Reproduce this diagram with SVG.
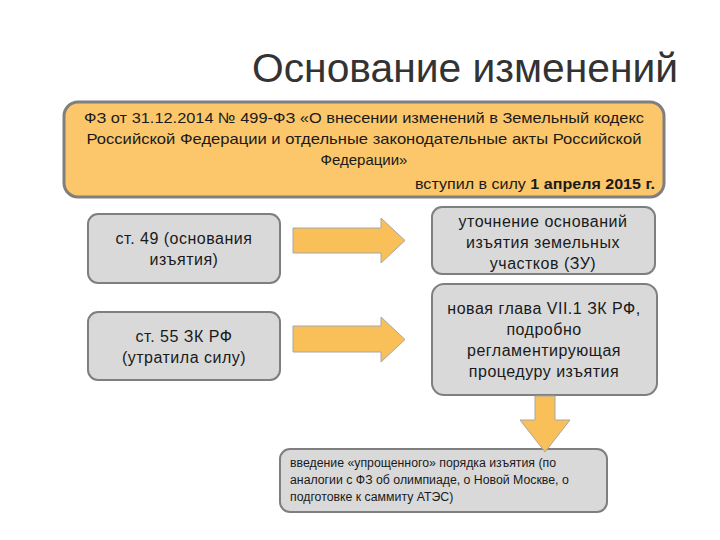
<svg xmlns="http://www.w3.org/2000/svg" width="720" height="540" viewBox="0 0 720 540">
<style>
text{font-family:"Liberation Sans",Arial,sans-serif;fill:#1a1a1a}
.t{font-size:15px}
.b{font-size:16px;letter-spacing:0.5px}
.c{text-anchor:middle}
.gray{fill:#d9d9d9;stroke:#7f7f7f;stroke-width:2}
.arr{fill:#f9c05a;stroke:#a6a6a6;stroke-width:1}
.s{font-size:12.3px}
</style>
<rect width="720" height="540" fill="#ffffff"/>
<text x="465" y="82" class="c" style="font-size:40px;fill:#333" textLength="426" lengthAdjust="spacingAndGlyphs">Основание изменений</text>
<g id="law">
<rect x="64" y="102" width="600" height="95" rx="14" fill="#fbc76a" stroke="#7f7f7f" stroke-width="3"/>
<text class="t c" x="364" y="123" textLength="560" lengthAdjust="spacingAndGlyphs">ФЗ от 31.12.2014 № 499-ФЗ «О внесении изменений в Земельный кодекс</text>
<text class="t c" x="364" y="144" textLength="555" lengthAdjust="spacingAndGlyphs">Российской Федерации и отдельные законодательные акты Российской</text>
<text class="t c" x="364" y="165">Федерации»</text>
<text class="t" x="655" y="189" text-anchor="end" textLength="240" lengthAdjust="spacingAndGlyphs">вступил в силу <tspan font-weight="bold">1 апреля 2015 г.</tspan></text>
</g>
<g id="st49">
<rect class="gray" x="88" y="214" width="192" height="69" rx="10"/>
<text class="b c" x="184" y="244">ст. 49 (основания</text>
<text class="b c" x="184" y="265">изъятия)</text>
</g>
<g id="st55">
<rect class="gray" x="88" y="312" width="192" height="68" rx="10"/>
<text class="b c" x="184" y="342">ст. 55 ЗК РФ</text>
<text class="b c" x="184" y="363">(утратила силу)</text>
</g>
<g id="clarify">
<rect class="gray" x="432" y="207" width="223" height="67" rx="10"/>
<text class="b c" x="543" y="227">уточнение оснований</text>
<text class="b c" x="543" y="248">изъятия земельных</text>
<text class="b c" x="543" y="269">участков (ЗУ)</text>
</g>
<g id="chapter">
<rect class="gray" x="432" y="284" width="225" height="111" rx="12"/>
<text class="b c" x="544" y="314">новая глава VII.1 ЗК РФ,</text>
<text class="b c" x="544" y="335">подробно</text>
<text class="b c" x="544" y="356">регламентирующая</text>
<text class="b c" x="544" y="377">процедуру изъятия</text>
</g>
<g id="simplified">
<rect class="gray" x="280" y="449" width="327" height="63" rx="10"/>
<text class="s" x="290" y="467">введение «упрощенного» порядка изъятия (по</text>
<text class="s" x="290" y="484">аналогии с ФЗ об олимпиаде, о Новой Москве, о</text>
<text class="s" x="290" y="501">подготовке к саммиту АТЭС)</text>
</g>
<g id="connectors">
<polygon class="arr" points="293,228 381,228 381,218 405,240.5 381,263 381,253 293,253"/>
<polygon class="arr" points="293,326 381,326 381,317 405,339.5 381,362 381,352 293,352"/>
<polygon class="arr" points="535,396 555,396 555,420 570,420 545,452 520,420 535,420"/>
</g>
</svg>
